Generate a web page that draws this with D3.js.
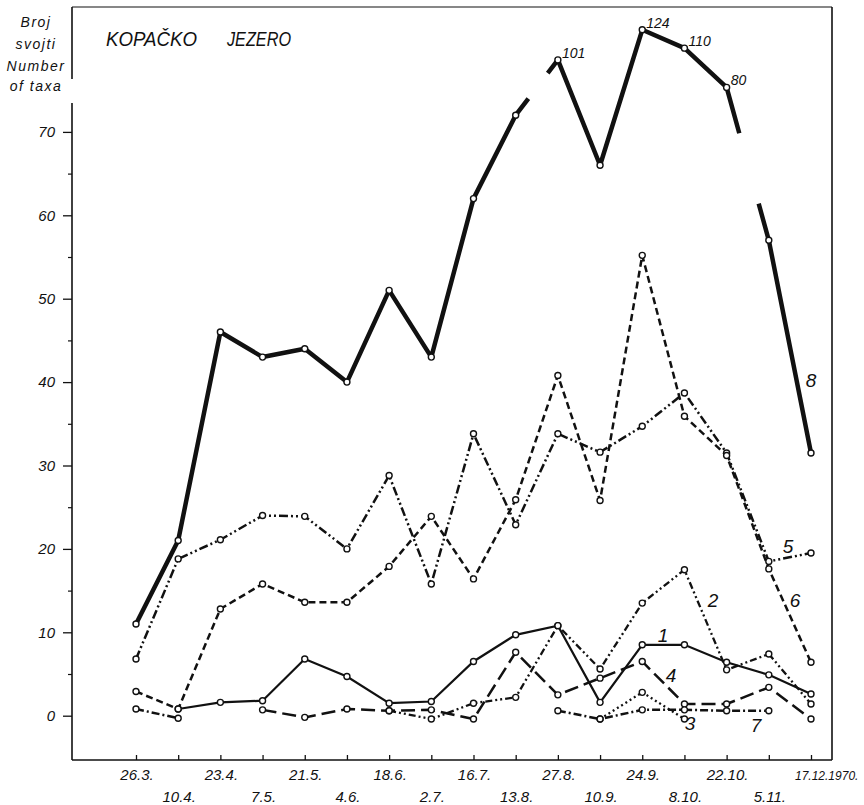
<!DOCTYPE html>
<html>
<head>
<meta charset="utf-8">
<script src="https://cdn.jsdelivr.net/npm/d3@7"></script>
<style>
body { margin: 0; background: #fff; }
text { font-family: "Liberation Sans", Arial, sans-serif; font-style: italic; fill: #111; }
</style>
</head>
<body>
<div id="chart"></div>
<script>
// Sampling dates (x categories)
var dates = ["26.3.", "10.4.", "23.4.", "7.5.", "21.5.", "4.6.", "18.6.", "2.7.", "16.7.",
             "13.8.", "27.8.", "10.9.", "24.9.", "8.10.", "22.10.", "5.11.", "17.12.1970."];

// Number of taxa per group (null = not recorded)
var s1 = [null, 0.8, 1.6, 1.8, 6.8, 4.7, 1.5, 1.7, 6.5, 9.7, 10.8, 1.6, 8.5, 8.5, 6.4, 4.9, 2.6];
var s2 = [null, null, null, null, null, null, 0.6, -0.4, 1.5, 2.2, 10.8, 5.6, 13.5, 17.5, 5.5, 7.4, 1.4];
var s3 = [null, null, null, null, null, null, null, null, null, null, null, -0.4, 2.8, -0.4, null, null, null];
var s4 = [null, null, null, 0.7, -0.2, 0.8, 0.6, 0.7, -0.4, 7.6, 2.5, 4.5, 6.5, 1.4, 1.4, 3.4, -0.4];
var s5 = [6.8, 18.8, 21.1, 24, 23.9, 20, 28.8, 15.8, 33.8, 22.9, 33.8, 31.6, 34.7, 38.7, 31.5, 18.5, 19.5];
var s6 = [2.9, 0.8, 12.8, 15.8, 13.6, 13.6, 17.9, 23.9, 16.4, 25.9, 40.8, 25.8, 55.2, 35.9, 31.2, 17.6, 6.4];
var s7 = [0.8, -0.3, null, null, null, null, null, null, null, null, 0.6, -0.4, 0.7, 0.7, 0.6, 0.6, null];
var s8 = [11, 21, 46, 43, 44, 40, 51, 43, 62, 72, 101, 66, 124, 110, 80, 57, 31.5];
// segments of series 8 drawn interrupted (start index of segment)
var s8Breaks = [9, 14];

var yTicks = [0, 10, 20, 30, 40, 50, 60, 70];
var yMinor = [5, 15, 25, 35, 45, 55, 65];

var svg = d3.select("#chart").append("svg")
    .attr("width", 864)
    .attr("height", 805);

var x = d3.scalePoint().domain(dates).range([136, 811]);
var y = d3.scaleLinear().domain([0, 70]).range([715.7, 131.9]);
// compressed scale above the axis break (values > 75)
var yTop = d3.scaleLinear().domain([80, 124]).range([87.4, 29.8]);
var breakAt = 75;

// Frame
var frame = svg.append("g").attr("stroke", "#111").attr("stroke-width", 1.6);
frame.append("line").attr("x1", 72).attr("x2", 832).attr("y1", 7).attr("y2", 7).attr("stroke-width", 1.2);
frame.append("line").attr("x1", 72).attr("x2", 72).attr("y1", 7).attr("y2", 79);
frame.append("line").attr("x1", 72).attr("x2", 72).attr("y1", 103).attr("y2", 760);
frame.append("line").attr("x1", 72).attr("x2", 832).attr("y1", 760).attr("y2", 760);
frame.append("line").attr("x1", 832).attr("x2", 832).attr("y1", 7).attr("y2", 760);

// Y axis
var yAxis = svg.append("g")
    .attr("transform", "translate(72,0)")
    .call(d3.axisLeft(y).tickValues(yTicks).tickSize(9).tickPadding(8));
yAxis.select(".domain").remove();
yAxis.selectAll("line").attr("stroke", "#111").attr("stroke-width", 1.3);
yAxis.selectAll("text").style("font-size", "15px").style("font-family", "Liberation Sans, Arial, sans-serif")
    .style("font-style", "italic").attr("fill", "#111");

var yAxisMinor = svg.append("g")
    .attr("transform", "translate(72,0)")
    .call(d3.axisLeft(y).tickValues(yMinor).tickSize(4).tickFormat(""));
yAxisMinor.select(".domain").remove();
yAxisMinor.selectAll("line").attr("stroke", "#111").attr("stroke-width", 1.2);

// X axis ticks
var xAxis = svg.append("g")
    .attr("transform", "translate(0,760)")
    .call(d3.axisBottom(x).tickSize(-5).tickFormat(""));
xAxis.select(".domain").remove();
xAxis.selectAll("line").attr("stroke", "#111").attr("stroke-width", 1.3);

// X labels in two alternating rows
svg.selectAll(".xlab")
    .data(dates)
    .enter().append("text")
    .attr("class", "xlab")
    .attr("x", d => x(d) + 1)
    .attr("y", (d, i) => i % 2 === 0 ? 780 : 802)
    .attr("text-anchor", "middle")
    .style("font-size", "15px")
    .text(d => d);
svg.selectAll(".xlab").filter((d, i) => i === dates.length - 1)
    .attr("x", 795).attr("text-anchor", "start")
    .style("font-size", "12px");

// Axis title and chart title
var yTitle = ["Broj", "svojti", "Number", "of taxa"];
svg.selectAll(".ytitle")
    .data(yTitle)
    .enter().append("text")
    .attr("class", "ytitle")
    .attr("x", 36)
    .attr("y", (d, i) => [27, 49, 71, 91][i])
    .attr("text-anchor", "middle")
    .style("font-size", "14px")
    .style("letter-spacing", "1.5px")
    .text(d => d);

svg.append("text").attr("x", 106).attr("y", 46)
    .attr("textLength", 91).attr("lengthAdjust", "spacingAndGlyphs")
    .style("font-size", "21px").text("KOPAČKO");
svg.append("text").attr("x", 227).attr("y", 46)
    .attr("textLength", 64).attr("lengthAdjust", "spacingAndGlyphs")
    .style("font-size", "21px").text("JEZERO");

// Thin series
var styles = [
    {data: s1, dash: null, w: 2.2},
    {data: s2, dash: "7,3,2,3,2,3", w: 2.3},
    {data: s3, dash: "2,3", w: 2.3},
    {data: s4, dash: "14,6", w: 2.5},
    {data: s5, dash: "9,3,2,3,2,3", w: 2.5},
    {data: s6, dash: "7,4", w: 2.5},
    {data: s7, dash: "8,3,2,3", w: 2.5}
];

var line = d3.line()
    .defined(d => d.v != null)
    .x(d => x(dates[d.i]))
    .y(d => y(d.v));

styles.forEach(s => {
    var pts = s.data.map((v, i) => ({i: i, v: v}));
    svg.append("path")
        .attr("d", line(pts))
        .attr("fill", "none")
        .attr("stroke", "#111")
        .attr("stroke-width", s.w)
        .attr("stroke-dasharray", s.dash);
});

// Series 8 with an axis break: the line is interrupted where it jumps into the top zone
var pts8 = s8.map((v, i) => ({i: i, v: v, up: v > breakAt,
    p: [x(dates[i]), v > breakAt ? yTop(v) : y(v)]}));
function lerp(a, b, t) { return [a[0] + (b[0] - a[0]) * t, a[1] + (b[1] - a[1]) * t]; }
var pieces = [], cur = [pts8[0].p];
for (var k = 1; k < pts8.length; k++) {
    var a = pts8[k - 1], b = pts8[k];
    if (s8Breaks.indexOf(k - 1) < 0) {
        cur.push(b.p);
    } else {
        cur.push(lerp(a.p, b.p, 0.3));
        pieces.push(cur);
        cur = [lerp(a.p, b.p, 0.76), b.p];
    }
}
pieces.push(cur);
svg.selectAll(".s8")
    .data(pieces)
    .enter().append("path")
    .attr("class", "s8")
    .attr("d", d => d3.line()(d))
    .attr("fill", "none")
    .attr("stroke", "#111")
    .attr("stroke-width", 4.5)
    .attr("stroke-linejoin", "round");

// Point markers
var allPts = [];
styles.forEach(s => s.data.forEach((v, i) => { if (v != null) allPts.push([x(dates[i]), y(v)]); }));
pts8.forEach(d => allPts.push(d.p));
svg.selectAll(".pt")
    .data(allPts)
    .enter().append("circle")
    .attr("class", "pt")
    .attr("cx", d => d[0])
    .attr("cy", d => d[1])
    .attr("r", 3)
    .attr("fill", "#fff")
    .attr("stroke", "#111")
    .attr("stroke-width", 1.4);

// Values written next to the points above the break
svg.selectAll(".uplab")
    .data(pts8.filter(d => d.up))
    .enter().append("text")
    .attr("class", "uplab")
    .attr("x", d => d.p[0] + 4)
    .attr("y", d => d.p[1] - 2)
    .style("font-size", "14px")
    .text(d => d.v);

// Series numbers
var seriesLabels = [
    {t: "1", x: 663, y: 642}, {t: "2", x: 713, y: 607}, {t: "3", x: 690, y: 730},
    {t: "4", x: 671, y: 682}, {t: "5", x: 788, y: 553}, {t: "6", x: 795, y: 607},
    {t: "7", x: 756, y: 732}, {t: "8", x: 811, y: 387}
];
svg.selectAll(".slab")
    .data(seriesLabels)
    .enter().append("text")
    .attr("class", "slab")
    .attr("x", d => d.x)
    .attr("y", d => d.y)
    .attr("text-anchor", "middle")
    .style("font-size", "19px")
    .text(d => d.t);
</script>
</body>
</html>
